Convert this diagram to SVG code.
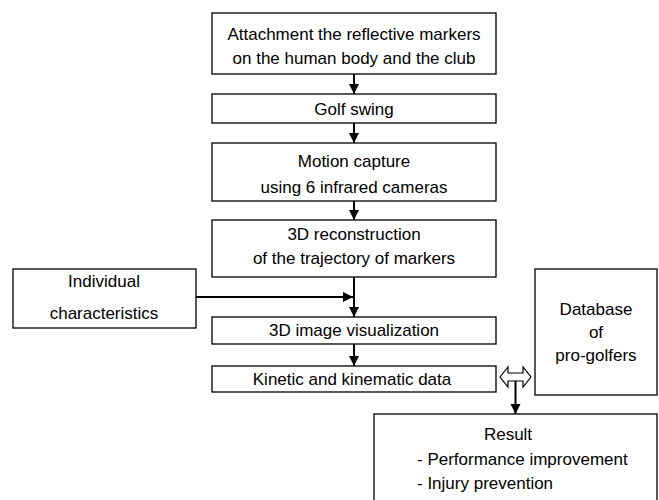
<svg xmlns="http://www.w3.org/2000/svg" width="659" height="500" viewBox="0 0 659 500">
<style>
.box{fill:#fff;stroke:#000;stroke-width:1.3}
.t{font-family:"Liberation Sans",Arial,sans-serif;font-size:17px;fill:#000}
.c{text-anchor:middle}
.conn{stroke:#000;stroke-width:2;fill:none}
</style>
<defs>
<marker id="ah" markerUnits="userSpaceOnUse" markerWidth="10" markerHeight="12" refX="10" refY="5" orient="auto">
<path d="M0,0 L10,5 L0,10 Z" fill="#000"/>
</marker>
</defs>
<rect width="659" height="500" fill="#fff"/>
<g id="connectors">
<line class="conn" x1="354" y1="74" x2="354" y2="94" marker-end="url(#ah)"/>
<line class="conn" x1="354" y1="123" x2="354" y2="143" marker-end="url(#ah)"/>
<line class="conn" x1="354" y1="201" x2="354" y2="220" marker-end="url(#ah)"/>
<line class="conn" x1="354" y1="277" x2="354" y2="317" marker-end="url(#ah)"/>
<line class="conn" x1="196" y1="297" x2="353" y2="297" marker-end="url(#ah)"/>
<line class="conn" x1="354" y1="344" x2="354" y2="366" marker-end="url(#ah)"/>
<path d="M500,377 L508,367 L508,373 L523,373 L523,367 L531,377 L523,387 L523,381 L508,381 L508,387 Z" fill="#fff" stroke="#000" stroke-width="1.2"/>
<line class="conn" x1="515.5" y1="381" x2="515.5" y2="414" marker-end="url(#ah)"/>
</g>
<g id="n1"><rect class="box" x="212" y="13" width="284" height="61"/>
<text class="t c" x="354" y="40">Attachment the reflective markers</text>
<text class="t c" x="354" y="64">on the human body and the club</text></g>
<g id="n2"><rect class="box" x="212" y="94" width="284" height="29"/>
<text class="t c" x="354" y="115">Golf swing</text></g>
<g id="n3"><rect class="box" x="212" y="143" width="284" height="58"/>
<text class="t c" x="354" y="167">Motion capture</text>
<text class="t c" x="354" y="193">using 6 infrared cameras</text></g>
<g id="n4"><rect class="box" x="212" y="220" width="284" height="57"/>
<text class="t c" x="354" y="240">3D reconstruction</text>
<text class="t c" x="354" y="264">of the trajectory of markers</text></g>
<g id="n5"><rect class="box" x="13" y="269" width="183" height="59"/>
<text class="t c" x="104" y="287">Individual</text>
<text class="t c" x="104" y="319">characteristics</text></g>
<g id="n6"><rect class="box" x="212" y="317" width="284" height="27"/>
<text class="t c" x="354" y="336">3D image visualization</text></g>
<g id="n7"><rect class="box" x="212" y="366" width="284" height="26"/>
<text class="t c" x="352" y="385">Kinetic and kinematic data</text></g>
<g id="n8"><rect class="box" x="535" y="269" width="122" height="126"/>
<text class="t c" x="596" y="315">Database</text>
<text class="t c" x="596" y="338">of</text>
<text class="t c" x="596" y="361">pro-golfers</text></g>
<g id="n9"><rect class="box" x="374" y="414" width="283" height="100"/>
<text class="t c" x="508" y="440">Result</text>
<text class="t" x="417" y="465">- Performance improvement</text>
<text class="t" x="417" y="489">- Injury prevention</text></g>
</svg>
